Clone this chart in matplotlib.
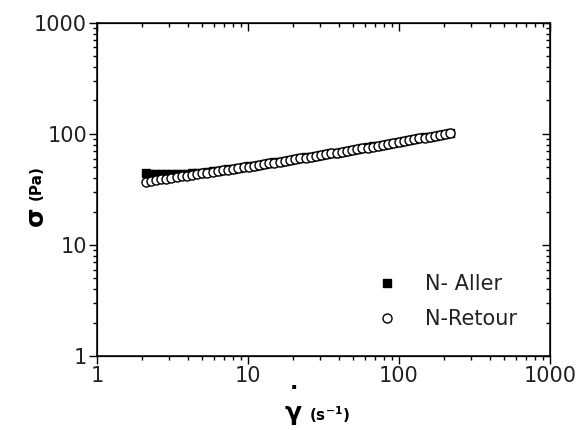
import matplotlib
matplotlib.use("Agg")
import matplotlib.pyplot as plt

plt.rcParams['font.family'] = ['DejaVu Sans']

# shear rate (s-1)
gamma_dot = [2.10, 2.27, 2.46, 2.66, 2.88, 3.11, 3.37, 3.64, 3.94, 4.27,
             4.62, 4.99, 5.40, 5.85, 6.32, 6.84, 7.40, 8.01, 8.67, 9.38,
             10.1, 11.0, 11.9, 12.8, 13.9, 15.0, 16.3, 17.6, 19.1, 20.6,
             22.3, 24.1, 26.1, 28.2, 30.5, 33.1, 35.8, 38.7, 41.9, 45.3,
             49.0, 53.0, 57.4, 62.1, 67.1, 72.6, 78.6, 85.0, 92.0, 99.5,
             108, 117, 126, 136, 148, 160, 173, 187, 202, 219]

# stress (Pa) - montee
sigma_aller = [44.0, 43.8, 43.6, 43.5, 43.4, 43.4, 43.5, 43.7, 43.9, 44.1,
               44.4, 44.8, 45.3, 45.9, 46.5, 47.2, 47.9, 48.6, 49.4, 50.2,
               51.0, 51.8, 52.7, 53.6, 54.5, 55.4, 56.3, 57.3, 58.3, 59.3,
               60.3, 61.3, 62.4, 63.5, 64.6, 65.7, 66.8, 67.9, 69.1, 70.3,
               71.4, 72.8, 74.1, 75.5, 77.0, 78.4, 79.9, 81.4, 83.0, 84.6,
               86.2, 87.8, 89.5, 91.2, 92.9, 94.7, 96.5, 98.3, 100.2, 102.0]

# stress (Pa) - descente
sigma_retour = [37.2, 37.8, 38.4, 39.0, 39.6, 40.2, 40.8, 41.4, 42.1, 42.7,
                43.4, 44.1, 44.8, 45.5, 46.2, 46.9, 47.6, 48.3, 49.1, 49.9,
                50.7, 51.5, 52.4, 53.3, 54.3, 55.2, 56.1, 57.1, 58.1, 59.1,
                60.1, 61.1, 62.2, 63.3, 64.4, 65.5, 66.6, 67.7, 68.9, 70.1,
                71.2, 72.6, 73.9, 75.3, 76.8, 78.2, 79.7, 81.2, 82.8, 84.4,
                86.0, 87.6, 89.3, 91.0, 92.7, 94.5, 96.3, 98.1, 100.0, 101.9]

ticks = [1, 10, 100, 1000]
tick_labels = ['1', '10', '100', '1000']

fig = plt.figure(figsize=(5.8, 4.3), dpi=100)
ax = fig.add_axes([0.167, 0.172, 0.781, 0.775])

ax.plot(gamma_dot, sigma_aller, 's', color='black', markersize=5.5,
        label='N- Aller')
ax.plot(gamma_dot, sigma_retour, 'o', markerfacecolor='white',
        markeredgecolor='black', markeredgewidth=1.0, markersize=6.5,
        label='N-Retour')

ax.set_xscale('log')
ax.set_yscale('log')
ax.set_xlim(1, 1000)
ax.set_ylim(1, 1000)
ax.set_xticks(ticks)
ax.set_xticklabels(tick_labels)
ax.set_yticks(ticks)
ax.set_yticklabels(tick_labels)
ax.tick_params(which='major', direction='out', length=6, width=1, labelsize=15,
               pad=1, labelcolor='#222222')
ax.tick_params(which='minor', direction='out', length=3, width=1)
for s in ax.spines.values():
    s.set_linewidth(1.1)

# top / right mirrored axes with inward ticks
axt = ax.twiny()
axt.set_xscale('log')
axt.set_xlim(1, 1000)
axt.tick_params(which='major', direction='in', length=6, width=1, labeltop=False)
axt.tick_params(which='minor', direction='in', length=3, width=1)
axr = ax.twinx()
axr.set_yscale('log')
axr.set_ylim(1, 1000)
axr.tick_params(which='major', direction='in', length=6, width=1, labelright=False)
axr.tick_params(which='minor', direction='in', length=3, width=1)

leg = ax.legend(loc='upper left', bbox_to_anchor=(0.614, 0.245), frameon=False,
                fontsize=15, handlelength=1.2, handletextpad=1.2,
                labelspacing=0.72, borderpad=0, borderaxespad=0)
for t in leg.get_texts():
    t.set_color('#222222')

# axis titles
fig.text(36/580, 1-216/430, 'σ', rotation=90, fontsize=18, fontweight='bold',
         ha='center', va='center')
fig.text(36/580, 1-183/430, '(Pa)', rotation=90, fontsize=11, fontweight='bold',
         ha='center', va='center')
fig.text(293/580, 1-413/430, 'γ', fontsize=18, fontweight='bold',
         ha='center', va='center')
fig.text(294/580, 1-393/430, '.', fontsize=16, fontweight='bold',
         ha='center', va='bottom')
fig.text(309/580, 1-421/430, r'(s$^{\mathbf{-1}}$)', fontsize=11, fontweight='bold',
         ha='left', va='baseline')

fig.savefig('out.png', dpi=100)
